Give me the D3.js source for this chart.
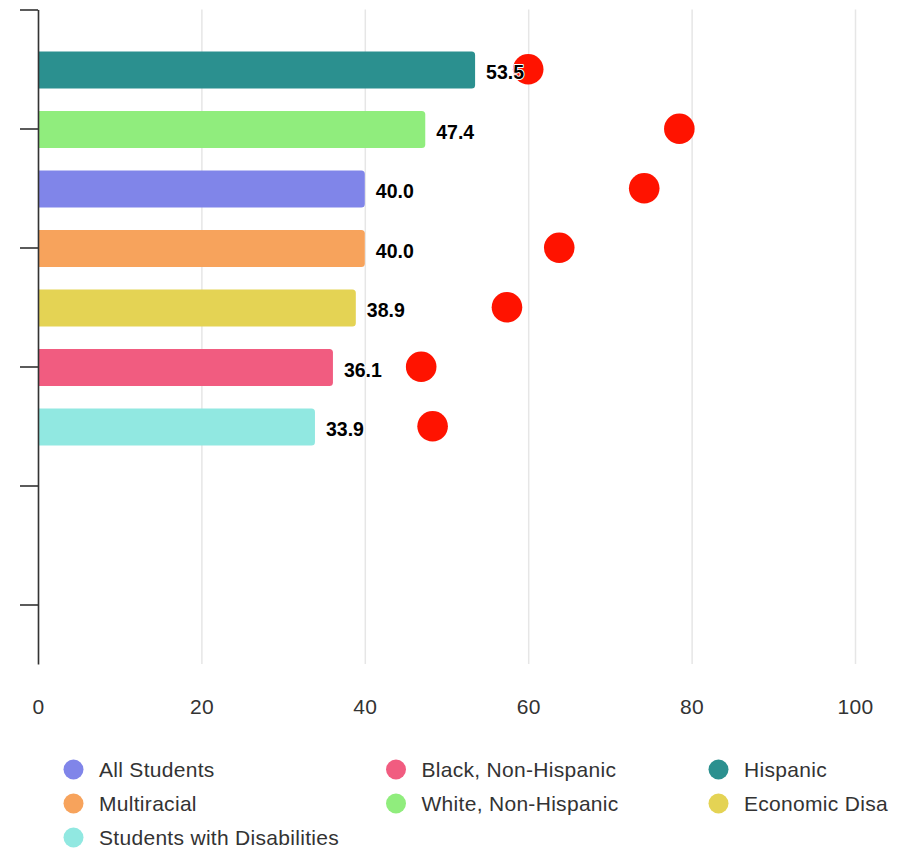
<!DOCTYPE html>
<html>
<head>
<meta charset="utf-8">
<script src="https://cdn.jsdelivr.net/npm/d3@7"></script>
<style>
  html, body { margin: 0; padding: 0; background: #fff; }
  svg { display: block; font-family: "Liberation Sans", Arial, Helvetica, sans-serif; }
</style>
</head>
<body>
<svg id="chart" width="905" height="853"></svg>
<script>
// ---- data ----
const groups = ["All Students", "Black, Non-Hispanic", "Hispanic", "Multiracial",
                "White, Non-Hispanic", "Economic Disa", "Students with Disabilities"];
const barValues = [40.0, 36.1, 53.5, 40.0, 47.4, 38.9, 33.9];
const dotValues = [74.2, 46.9, 60.0, 63.8, 78.5, 57.4, 48.3];
const groupColors = ["#8085e9", "#f15c80", "#2b908f", "#f7a35c", "#90ed7d", "#e4d354", "#91e8e1"];
const xTicks = [0, 20, 40, 60, 80, 100];
const ySlotTicks = [0, 2, 4, 6, 8, 10];
const ySlotCount = 11;

// ---- layout ----
const svg = d3.select("#chart");
const x = d3.scaleLinear().domain([0, 100]).range([38, 855]);
const y = d3.scaleLinear().domain([0, ySlotCount]).range([9.5, 664]);
const barH = 37;

const rows = groups.map((g, i) => ({ name: g, value: barValues[i], dot: dotValues[i], color: groupColors[i], idx: i }));
const sorted = rows.slice().sort((a, b) => d3.descending(a.value, b.value) || a.idx - b.idx);
sorted.forEach((d, i) => { d.slot = i + 1; d.cy = y(d.slot) + 1; });

// grid + x labels
const xAxis = d3.axisBottom(x).tickValues(xTicks).tickSizeInner(-(y(ySlotCount) - y(0)))
  .tickSizeOuter(0).tickPadding(35).tickFormat(d3.format("d"));
const gx = svg.append("g").attr("transform", `translate(0,${y(ySlotCount)})`).call(xAxis);
gx.select(".domain").remove();
gx.selectAll(".tick line").attr("stroke", "#e6e6e6").attr("stroke-width", 1.5);
gx.selectAll(".tick text").attr("fill", "#333").attr("font-size", 21)
  .attr("letter-spacing", "0.3px")
  .attr("font-family", '"Liberation Sans", Arial, sans-serif');

// bars (rounded right corners)
function barPath(d) {
  const x0 = x(0) + 0.75, x1 = x(d.value), t = d.cy - barH / 2, b = d.cy + barH / 2, r = 3.5;
  return `M${x0},${t}H${x1 - r}Q${x1},${t} ${x1},${t + r}V${b - r}Q${x1},${b} ${x1 - r},${b}H${x0}Z`;
}
svg.append("g").selectAll("path").data(sorted).join("path")
  .attr("d", barPath).attr("fill", d => d.color);

// dots
svg.append("g").selectAll("circle").data(sorted).join("circle")
  .attr("cx", d => x(d.dot)).attr("cy", d => d.cy - 0.8).attr("r", 15.3)
  .attr("fill", "#ff1300");

// value labels
svg.append("g").selectAll("text").data(sorted).join("text")
  .attr("x", d => x(d.value) + 11).attr("y", d => d.cy + 9)
  .attr("font-size", 19.5).attr("font-weight", "bold").attr("fill", "#000")
  .attr("stroke", "#fff").attr("stroke-width", 2).attr("stroke-linejoin", "round")
  .attr("paint-order", "stroke")
  .text(d => d3.format(".1f")(d.value));

// y axis
const yAxis = d3.axisLeft(y).tickValues(ySlotTicks).tickSizeInner(18).tickSizeOuter(0).tickFormat("");
const gy = svg.append("g").attr("transform", `translate(${x(0)},0)`).call(yAxis);
gy.select(".domain").attr("stroke", "#333").attr("stroke-width", 1.6);
gy.selectAll(".tick line").attr("stroke", "#333").attr("stroke-width", 1.6);

// legend
const legendCols = [73.5, 396, 718.5];
const legendRow0 = 769.5, legendRowH = 34;
const lg = svg.append("g").selectAll("g").data(rows).join("g")
  .attr("transform", (d, i) => `translate(${legendCols[i % 3]},${legendRow0 + Math.floor(i / 3) * legendRowH})`);
lg.append("circle").attr("r", 10).attr("fill", d => d.color);
lg.append("text").attr("x", 25.5).attr("y", 7).attr("font-size", 21).attr("fill", "#333")
  .attr("letter-spacing", "0.3px")
  .text(d => d.name);
</script>
</body>
</html>
